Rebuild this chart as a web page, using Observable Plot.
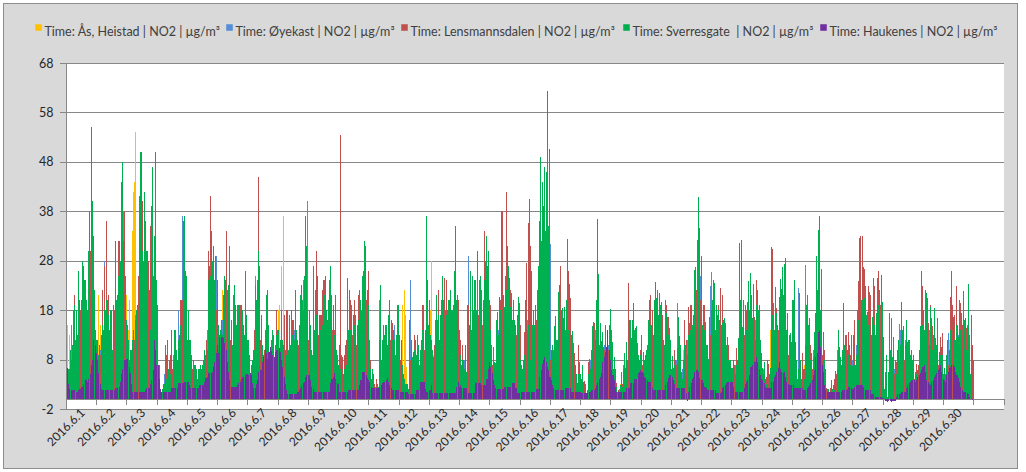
<!DOCTYPE html>
<html>
<head>
<meta charset="utf-8">
<script src="https://cdn.jsdelivr.net/npm/d3@7"></script>
<script src="https://cdn.jsdelivr.net/npm/@observablehq/plot@0.6"></script>
<style>
html, body { margin: 0; padding: 0; background: #ffffff; }
#wrap { position: relative; width: 1026px; height: 472px; overflow: hidden; }
#bg { position: absolute; left: 3px; top: 3px; width: 1015px; height: 466px; box-sizing: border-box; border: 1px solid #8c8c8c; background: #d9d9d9; }
#chart { position: absolute; left: 0; top: 0; }
#chart svg text { white-space: pre; }
#msg { position: absolute; left: 10px; top: 440px; color: red; font: 12px sans-serif; }
</style>
</head>
<body>
<div id="wrap"><div id="bg"></div><div id="chart"></div><div id="msg"></div></div>
<script>
// ---------- tick labels & series ----------
const dayLabels = ["2016.6.1","2016.6.2","2016.6.3","2016.6.4","2016.6.5","2016.6.6","2016.6.7","2016.6.8","2016.6.9","2016.6.10",
  "2016.6.11","2016.6.12","2016.6.13","2016.6.14","2016.6.15","2016.6.16","2016.6.17","2016.6.18","2016.6.19","2016.6.20",
  "2016.6.21","2016.6.22","2016.6.23","2016.6.24","2016.6.25","2016.6.26","2016.6.27","2016.6.28","2016.6.29","2016.6.30"];
const yTicks = [-2, 8, 18, 28, 38, 48, 58, 68];
const seriesNames = [
  "Time: Ås, Heistad | NO2 | µg/m³",
  "Time: Øyekast | NO2 | µg/m³",
  "Time: Lensmannsdalen | NO2 | µg/m³",
  "Time: Sverresgate  | NO2 | µg/m³",
  "Time: Haukenes | NO2 | µg/m³"
];
const seriesColors = ["#FFC000", "#558ED5", "#C0504D", "#00B050", "#7030A0"];

// ---------- hourly values, one row of 24 per day (June 1 .. June 30) ----------
const heistad = [
[18,15,13,8,6,5,7,6,5,8,7,9,10,9,8,10,9,12,14,18,16,14,10,6],
[6,21,7,15,8,7,9,10,9,8,8,9,6,8,12,9,10,12,14,16,18,15,14,17],
[21,14,20,8,34,42,44,54,10,12,14,13,12,11,10,9,9,10,8,11,13,12,11,9],
[5,3,1,1,1,2,4,3,5,4,4,6,5,7,8,6,7,8,9,10,11,12,9,8],
[8,6,5,4,4,3,3,3,3,3,4,4,5,5,6,7,10,11,12,13,12,11,10,9],
[10,9,10,12,22,14,13,15,14,13,10,7,11,12,11,11,10,10,11,10,9,8,10,7],
[6,5,4,4,5,7,12,13,16,12,9,6,5,7,10,11,8,4,6,8,7,6,9,12],
[18,19,8,27,37,7,6,7,6,7,8,9,8,12,9,8,9,12,13,12,14,16,15,12],
[9,8,5,5,10,11,12,13,9,9,9,11,12,13,10,11,13,14,11,10,8,9,5,4],
[4,3,3,3,3,3,4,8,9,8,8,10,9,7,9,10,13,12,14,15,17,16,13,12],
[6,4,3,2,1.5,1.5,2,1.5,9,14,7,9,8,9,7,11,12,10,10,9,8,8,12,12],
[7,6,4,19,22,17,6.5,2.5,8,7,5,5,6,6,6,6,6,7,10,10,8,12,11,9],
[10,18,28,9,8,10,8,10,9,10,11,10,12,12,9,10,11,9,9,12,14,10,10,9],
[5,4,5,4,6,3,9,10,12,8,11,11,12,10,13,12,12,11,10,15,13,14,15,10],
[9,6,5,4,4,8,9,11,10,15,15,10,13,16,15,12,11,10,10,9,8,9,11,10],
[5,4,4,6,8,10,12,14,11,10,9,8,10,12,14,18,22,20,20,21,22,25,18,20],
[6,7,6,9,8,7,12,13,12,11,10,11,12,14,12,11,10,8,6,5,3,2,4,4],
[2,4,2,2,0.8,1,4,5,6,9,10,9,12,18,14,9,7,8,7,9,4,5,9,11],
[8,7,5,3,2,1,1,1.5,3,2,6,4,8,5,12,10,8,11,12,9,10,7,5,6],
[7,6,5,5,6,9,10,11,10,10,12,14,12,13,13,12,12,10,7,12,12,10,9,7],
[5,4,6,5,6,10,8,7,3,5,10,7,8,11,9,12,12,11,15,16,18,20,18,16],
[9,11,11,9,6,5,10,12,13,14,14,11,10,11,9,12,12,10,9,9,7,6,5,4],
[4,5,4,6,5,8,13,12,9,13,12,11,13,15,16,14,10,15,10,14,14,11,11,6],
[4,5,2,3,5,5,4,14,15,11,13,12,10,13,16,14,17,18,17,9,11,8,9,7],
[13,15,7,5,4,13,5,3,5,4,7,12,13,10,7,6,5,9,11,17,20,22,11,12],
[8,6,3,1,1,0.8,1,1.5,1,1.5,2,4,9,7,5,6,7,7,7,7,7,7,6,6],
[7,7,6,10,13,15,15,16,13,14,12,10,12,11,11,11,12,12,11,15,14,12,15,12],
[8,1,4,0.2,3,9,8,5,8,5,5,6,8,7,12,9,9,7,10,7,8,8,6,5],
[5,3,4,3,6,9,13,12,11,12,12,12,9,12,10,9,11,8,7,10,6,7,7,8],
[4,3,6,8,7,12,14,11,10,8,13,9,12,11,10,13,10,9,8,14,8,3,9,6]
];
const oyekast = [
[3,4,5,9,15,10,9,8,7,10,9,11,12,10,10,12,11,14,20,30,48,25,15,9],
[7,8,9,10,12,11,28,14,13,12,12,11,7,12,16,13,14,18,20,25,28,38,20,11],
[10,9,8,7,8,9,11,17,15,20,22,24,20,19,17,15,14,12,10,16,20,18,22,14],
[8,4,1,1,1,2,5,4,6,5,5,7,5,9,9,7,8,18,12,12,37,14,12,11],
[10,8,7,6,5,4,4,4,4,4,5,5,6,7,7,8,14,15,17,18,19,16,15,29],
[9,8,9,10,16,15,13,14,13,12,9,7,10,12,10,11,10,10,12,9,8,7,11,6],
[7,6,4,5,6,9,25,14,18,14,10,7,6,9,13,14,10,5,8,9,8,7,10,9],
[8,7,9,8,7,9,10,10,6,9,10,10,9,14,10,8,10,14,15,14,24,25,22,40],
[11,9,6,6,12,13,14,15,11,10,10,13,14,15,11,12,14,16,13,12,9,10,6,5],
[5,4,3,3,4,3,5,10,11,10,10,12,11,9,11,12,15,14,16,17,19,18,15,14],
[7,5,4,3,2,2,3,2,20,15,8,10,9,10,7,12,13,11,11,9,15,9,13,13],
[8,7,5,3,3,2,2,1,12,24,6,7,8,8,8,8,7,8,11,11,9,14,12,10],
[11,9,7,6,10,13,11,12,11,12,14,12,14,13,11,12,13,11,11,15,18,12,12,11],
[7,5,6,5,8,4,10,29,14,9,13,12,13,11,15,13,14,12,11,17,15,16,18,12],
[11,7,6,5,5,10,12,14,13,18,18,12,15,19,17,14,13,12,12,10,9,11,13,12],
[7,5,5,8,11,14,16,18,13,12,11,10,12,14,16,20,25,24,26,27,28,32,22,26],
[31.4,8,7,11,10,9,15,16,14,13,12,13,14,17,13,13,12,9,7,6,3,2,5,4],
[3,5,2,2,1,1,5,6,8,11,12,11,14,20,16,11,8,10,8,11,5,6,11,13],
[9,8,6,4,2,1,1,2,3.5,2,7,4,9,6,14,12,9,12,13,10,12,8,6,7],
[8,7,6,6,7,10,12,12,11,11,13,15,13,14,14,13,13,11,8,13,13,11,10,8],
[6,5,7,6,8,19.4,9,8,4,6,11,8,9,12,10,13,13,12,16,17,20,22,20,25],
[10,12,12,10,7,6,11,22.8,25.8,15,15,12,11,12,10,13,13,11,10,10,8,7,5,4],
[5,6,5,7,6,10,15,14,10,14,13,12,14,17,18,16,11,17,11,16,15,12,12,7],
[4,6,3,3,6,6,5,16,16,12,14,13,11,14,17,15,18,19,19,10,12,9,9,8],
[14,17,8,6,4,22.4,6,3,6,4,27.2,14,14,11,8,7,6,10,12,18,22,24,12,13],
[9,7,3,1.5,1.2,1,1.2,2,1.5,2,3,4,10,8,6,7,8,8,8,8,8,8,7,7],
[8,8,7,11,14,16,16,17,14,15,13,11,13,12,12,12,13,13,12,16,15,13,16,13],
[9,1.2,5,0.3,4,11,10,6,9,6,6,7,9,15.2,14,10,10,8,12,8,9,9,7,6],
[6,4,5,4,7,10,14,13,12,13,14,14,10,14,11,10,12,9,8,11,7,8,8,9],
[5,4,7,9,13.4,13,16,12,11,9,14,10,13,12,11,14,11,10,9,15,9,3.5,10,7]
];
const lensmannsdalen = [
[4,4,5,6,8,12,21,12,10,15,13,18,23,22,17,24,15,20,25,30,28,26,18,14],
[12,7,8,9,22,11,27,36,15,21,14,14,8,12,18,14,16,32,32,44,30,22,38,12],
[10,9,8,7,9,10,12,14,12,25,30,34,40,28,36,22,30,28,35,39,28,25,30,19],
[19,5,1.5,1,2,3,11,9,12,8,9,14,6,9,10,7,8,10,20,19,20,22,16,15],
[12,9,8,6,6,5,5,4,4,5,5,6,6,7,7,12,30,27,41,34,22,23,29,18],
[11,10,11,16,17,19,24,34,18,31,12,8,21,18,19,14,15,16,19,13,11,10,26,9],
[8,7,5,6,8,14,23,24,45,27,12,8,7,10,15,16,11,5,12,10,9,8,18,10],
[10,9,18,11,10,17,18,18,7,17,18,16,16,15,10,9,11,15,17,19,18,22,20,14],
[12,10,7,7,27,22,30,18,13,17,12,22,24,19,13,16,18,20,21,14,14,21,8,9],
[11,53.5,9,8.5,9,11,12,24.5,22,20,19,13,20,17,11,21,16,15,18,19,22,21,20,26],
[8,8,4,5,3,2.5,4,2,8,15,8,10,9,11,8,12,20,12,15.5,10,9,9,14,13],
[9,8,5,4,3,3,2,2,11,8,6,7,13,12,13,8,7,12,19,19,10,18,15,11],
[20,10,8,6,11,14,12,22,12,14,17,15,24.5,24,13,14,16,13,12,19,28,15,21,20],
[12,7,11,8,9,4,19,19,18,10,17,18,24,13,20,17,18,16,15,34,21,22,27,15],
[19,11,7,5,7.4,11,17.6,14,20,38,38,13,25,42,31,24.5,22,21.4,14,12,11,13,15,14],
[15,7,8,13.6,20,27.6,35.7,40.5,31,26,13,11,14,16,19,25,30,32,39,33,34,36,24.5,30],
[8,8,10,10,16.8,9,20.2,13,27,14,12,13,14,32.4,26,23.3,20.4,10,11.3,9.3,4,2.5,10.9,7.6],
[3,4,2.5,3.7,1,1.8,7.6,8.2,7,10,11,15.3,14,22,17,11,11.8,10,8,10,6,8.3,10,12],
[10,8,6,4,3.2,1,1.8,2,5.5,3,6,5,8,6,23.4,11,12.3,11,19.4,10,11,11.3,6,10],
[13,7,6,6,7,11,20,21,11,18,14,22.8,15,22,15,14,14,17,8,20,19.1,16.7,10,9],
[6,5,10,8,7,11,9,8,5.5,7.9,16,10.9,12,18.7,15.3,19,19,12,18,26.8,22,25,23,20],
[10,13,19,15.7,8,6,16.7,13,15,17,22.4,14,12,19,12,22.4,21,16,12,15.3,9,10.9,6,5],
[6,5,7,10.3,6,9,31.6,32.2,10,14,13,18,14,17,18,15,12,16,16.7,24.1,16,13,19,9.3],
[5,5,3,4.5,7.9,7.2,5,30.7,30.4,19.4,22.6,18.4,11,14,17,16,19,21,28.5,10,12,9,10,8],
[14,16,8,6,4,14,6,3,9.3,6,8,13,21,11,10.9,7,6,9,17.4,19,22,24,12,26.3],
[9,10,4,2.2,1.5,1.5,2.2,3.9,2.8,4,5.7,5,11.4,8,6,7,19.4,8,13,13,13.5,8,9,13],
[13,16,7,18,23.8,32.6,33,32.9,26.8,26.4,22.8,17.7,22.8,21.6,21.1,15,24.5,22.9,13,18,25.9,22,19,14],
[12.6,1.5,5.5,0.3,4,17.4,16.4,6,8,5,7.6,7,8,8,13,10,14.7,8,11,11.5,8,12,10,6],
[8.9,4,7.1,4,7,10,26,22.8,18,22,15,20.4,15.5,19,16.5,14.7,13,9,8,12,7,12.5,8,13.3],
[5,4,6,8,7,20.6,26,19,17,9,22.8,14.9,20,19.4,17.4,15,11,16.5,14.3,14.6,9,4,17,11]
];
const sverresgate = [
[6,6,6,10,11,18,19,18,13,26,20,20,28,27,24,20,18,30,38,55,40,33,22,12],
[8,9,11,13,15,14,18,20,20,17,18,18,10,19,32,20,21,25,28,33,48,32,25,16],
[15,12,10,10,12,14,16,18,19,41,50,50,30,42,28,30,24,22,14,30,47,33,50,24],
[14,7,2,1.5,2,3,5,4,6,6,5,8,8,14,14,10,12,13,15,20,36,37,26,25],
[18,12,12,9,8,7,7,6,6,6,7,7,8,10,9,10,24,24,25,28,31,24,22,24],
[15,13,14,13,21,25,20,22,23,22,16,11,17,23,15,19,19,19,19,18,15,13,17,12],
[12,9,7,8,10,10,20,21,30,22,17,11,9,14,21,22,15,7,9,14,13,11,13,14],
[14,12,11,12,11,10,9,10,10,11,12,13,12,22,14,12,15,21,23,20,25,37,31,18],
[18,15,10,9,14,19,17,25,17,14,17,15,21,25,18,20,24,27,16,19,13,12,10,7],
[8,6,5,5,6,5,7,14,15,14,13,17,15,12,15,16,22,20,25,26,32,31,22,19],
[12,6,6,3,2,2,3,2.5,12,23,12,15,13,15,11,17,14,16,12,14,12,13,19,19],
[13,12,7,5,4,3,3,2,16,12,8.5,9.5,10,9,10,11,10,9,14,15,14,37,24,15],
[13,12,10,8.5,16,21,16,17,17,20,25,20,18,17,18,20,22,18,18,26,35,20,16,14],
[9,5,8,6,11,5.5,4,15,26,14,25,24,18,18,30,24,25,22,20,24,28,33,30,20],
[14,8,10.6,7.6,6,16,13,20.7,18,20,21,18.7,19,22,27,20,18.7,16,20,16,15,17,20.7,19.4],
[8,6,6,9,10,14,15,16,8,15,18,15,19,22,27,36,49,44,36,47,46,62.4,35,50.6],
[10,11,9.3,14.7,12,12,21.6,23,18,18.4,16.5,18.7,20,22,14,15,13,13.7,8,7,5,3.2,5,5],
[4,6.9,3.5,3,1.2,1.5,5,6,10,14.7,15.7,12,20,36.4,25.3,15.3,10,13.6,10.6,15,7,6,15,18.3],
[14,11.5,8.6,6,2.5,1.5,1.2,2.8,4,2.5,9.3,6.2,11.6,8,16,16,10,16.1,14,14.3,14.7,9,8,9],
[12,9.5,8,9,10,16,14,15,15,13,20,23.6,20.4,17,21.4,19,19.7,12,11,14,17.5,13,14.3,12],
[8.7,6.2,7,6,10.3,16.7,12.8,10.9,4,6,11,8,9,13,11,14,15,17,26.1,20,32.2,40.8,34.6,28.9],
[15,19,14,11,10.9,8.2,12,18,20,24.1,23.4,19,17,18,16,15,15.3,12,16.4,11,12.6,8,8,6.2],
[6.2,7.9,5,7,8,12.3,20,18,14.5,20,19,14,19.7,23.8,25.5,21,16.4,23.3,12,19,22,18,12,8],
[6.2,7.5,4,3,5,5,6.2,15,17,14,16,17.4,15,20.7,24.3,22.2,26.8,27.4,20,14,17.4,13,13.3,11.5],
[20,24.1,11.6,8,6,21.4,8,4,6,4,10.9,19,15,16.4,8,9.3,8.6,13.6,17.2,28.9,34.3,37,18,13.6],
[13.6,8,6,2,2,1.2,1.5,2,1.8,1.8,3,6,14,10.6,8.5,10,9,11,9,10,9,11,7,6.8],
[9,7,9,12,16,18,20,20,15,20.4,17,12,15,14,13,16.7,17,15,17.4,24.5,19,15,25.1,19.7],
[12,2,8.9,0.5,5.5,10,9,8.6,12.5,7.9,5,10,12,11,19.6,14,10,11,16,8,12,9,7,8],
[6,5.5,5,5.9,10,14.7,16,15,14,15,21.4,15.7,11,18.7,12,10,18.4,12.3,10.9,16.5,9.6,9,10.6,9],
[6.2,5,9,12,10,14,17,16.7,12,12,15,12.6,13,14,13,21.8,16,12,10,23.3,13,5,10,7.9]
];
const haukenes = [
[6.2,3,2,1.8,1.8,1.8,1.8,1.5,1.5,1.8,2,2.5,2.5,3,3.9,3.9,3.5,4,5,7,8,12,11,9.3],
[8,5.2,3,2,1.8,1.8,1.8,1.8,1.8,1.8,1.8,1.8,1.8,1.8,2.2,2.2,2.2,2.5,3.5,5,6,7.9,8,8.2],
[8.2,6.5,5.2,3,1.5,1.5,1.5,1.5,1.5,1.5,1.5,1.5,1.5,1.5,1.8,2.2,2.2,2.2,3,3.8,5.9,12,10,6.9],
[6.9,4,2,1.5,1.5,1.5,1.5,1.5,1.5,1.5,1.5,2.2,2.2,2.2,2.2,2.2,3.2,3.2,3.2,3.2,3.2,3.5,3.5,3.5],
[3.5,2.8,2.2,2.2,2.2,2.2,2.2,2.2,2.2,2.8,2.8,2.8,2.8,3.5,4.2,4.5,5.2,5.2,5.2,5.5,6.5,7.6,9.3,11],
[9.3,12.6,12.6,12.6,12.3,11.3,10,7.6,5.5,3.9,2.5,2.5,2.5,2.5,2.5,2.8,3.2,3.5,4,4.5,4.5,4.9,5,5],
[4.9,5.2,4.9,3.2,2.2,2.2,3,3.9,5.5,5.9,5.9,7.6,8.5,9.9,9.3,8.2,9.6,10.5,9.8,9,8.5,9.5,10,9.9],
[10.3,9.5,8,6.5,4.5,3,1.8,1.1,1,1,1,1,1,1,1,1.5,1.8,2.2,2.8,3.2,3.5,4.5,4.9,4.9],
[4.9,3.9,2.5,2,1.5,1.5,1.5,1.5,1.5,1.5,1.5,1.5,1.5,1.5,1.5,1.5,1.5,3.2,4,4.5,5.2,4,3.2,3],
[1.5,1.5,1.5,1.5,1.5,1.5,1.5,1.8,1.8,1.8,1.8,1.8,1.8,1.8,1.8,1.8,2.8,3.9,5.5,5.5,5.5,4.9,4.2,3.9],
[3.5,2.5,2.2,2.2,2.2,2.2,2.2,2.2,2.5,2.8,3.2,3.5,3.5,3.9,4.2,3.5,2.8,2.2,1.8,1.8,1.8,1.8,1.8,1.8],
[1.5,1.5,1.5,1.5,1.5,1.5,1.5,1,1,1,1,1,1,1.8,1.8,1.8,3.5,3.5,3.5,3.5,2,1.5,1.5,1.8],
[1.8,2.8,1.2,1.2,1.2,1.2,1.2,1.2,1.2,1.2,1.2,1.2,1.2,1.2,1.2,1.2,1.2,1.2,1.2,1.2,1.2,2.5,3.5,2.5],
[2.8,2.2,2.2,2.2,2.2,2.2,1.2,1.2,1.2,1.2,1.2,1.2,3.2,3.2,3.2,3.2,3.2,2.8,2.8,2.8,2.8,4,6,7.6],
[6.5,5.2,3.9,2.8,2.2,2,2,2,2,2,2,2.5,2.5,2.5,2.5,2.5,2.5,3.2,3.2,3.2,2.2,1.2,1.2,1.2],
[1.5,1.5,1.5,1.5,1.5,1.5,1.5,1.5,1.5,1.5,1.5,1.5,2,2,2,4.5,5.9,7.2,8,8.6,7.6,6.4,5.9,4.5],
[3.9,2.8,2.2,1.8,1.8,1.8,1.8,1.8,1.8,1.8,1.8,2.2,2.2,2.2,2.2,2.2,1.5,1.5,1.5,1.5,1.5,1.5,1.5,1.5],
[1.2,1.2,1.2,1.2,1.2,1.2,1.5,1.5,1.8,1.8,1.8,2.2,2.8,3.5,4,4.5,5.2,7.6,8.5,9.5,10.6,14,9.9,7.9],
[5.9,4.9,3.9,2.5,1.5,1.5,1.5,1.5,1.5,1.5,1.5,1.5,2.2,2.2,2.2,3.2,3.2,3.2,4,4,4,5.2,5.5,5.9],
[5.5,5.2,4.5,4.2,3.9,3.5,3.5,3.5,2.2,1.8,1.8,1.8,1.8,1.8,1.8,1.8,1.8,1.8,1.8,2.8,3.5,4.2,4.9,4.9],
[4.5,3.9,3,2.2,2.2,2.2,2.2,2.2,2.2,2.2,2.2,1.2,-0.3,1.5,2.5,3.2,4,4.5,5.5,5.9,5.9,5.5,4.2,3.9],
[3.9,3.2,2.5,2.2,1.8,1.8,1.8,1.8,1.8,1.8,1.8,1.2,1.2,1.2,1.2,1.5,2.2,2.5,2.8,3.2,3.5,3.5,3.5,3.5],
[3.5,2.5,1.5,1.5,1.5,1.5,1.5,1.5,1.5,2.2,3,3.5,4,4.9,6.5,6.5,7,7.6,7.6,8.5,7.5,6,4.9,4],
[3.9,3.2,2.5,2.2,2.2,2.2,2.2,3.5,3.5,4.5,4.9,5.5,6.2,7.6,6,5.5,5.2,5.5,4.5,3.5,3,2.8,2.8,2.8],
[2.8,2.2,2.2,2.2,2.2,2.2,2.2,2.2,1.8,1.8,1.8,2.2,2.5,2.8,3.2,3.9,4.9,5.9,8.6,9.3,13.6,14,10.6,7],
[5.5,2.8,1.8,1.5,1.5,1.5,1.5,1.5,1.5,1.5,1.5,1.5,1.5,1.5,1.5,1.8,1.8,1.8,1.8,2,2.5,2.5,2.2,2],
[2,2.5,2.8,2.8,2.8,2.8,2.8,2.8,2.5,1.8,1.8,1.8,1.8,1.8,1,1,1,0.5,0.5,0.5,0.5,0.5,0.5,0.3],
[0.2,-0.4,-0.4,-0.5,-0.4,-0.4,-0.5,-0.4,-0.4,-0.4,0.5,1,1,1,1.5,1.5,1.5,1.5,2.2,2.8,3.2,3.5,3.9,3.9],
[3.9,3.5,3.9,4.5,4.9,5.2,5.9,6.5,6.9,5.5,3.9,3.5,3,2.8,3.5,3.9,4.5,4.9,5.2,5.9,6.2,6.9,5.5,4],
[3.9,3.5,4.9,5.5,6.2,6.5,6.9,6.9,6.5,5.5,4.9,4.2,3.5,2.5,1.8,1.5,1.5,1.5,1.2,1,0.5,0,-0.2,-0.2]
];

// ---------- assemble ----------
const allSeries = [heistad, oyekast, lensmannsdalen, sverresgate, haukenes];
const HOURS_PER_DAY = 24;
const SLOTS = 31 * HOURS_PER_DAY;           // category axis holds one empty extra day
const problems = [];
allSeries.forEach((s, k) => s.forEach((day, d) => { if (day.length !== 24) problems.push(`s${k} d${d + 1}: ${day.length}`); }));
if (problems.length) document.getElementById("msg").textContent = "BAD: " + problems.join("; ");

// bar placement inside each hourly category (Excel clustered columns, ~1px each)
const barOffset = [0, 0.15, 0.35, 0.55, 0.7];
const barWidth  = [0.8, 0.8, 0.8, 0.8, 0.82];

const gridColor = "#878787";
const textColor = "#262626";
const fontFamily = "Lato, 'Open Sans', 'DejaVu Sans', sans-serif";

// legend layout (pixels within the picture)
const frameLeft = 66, frameTop = 63;
const legendSquareX = [38, 229, 404, 626, 823];
const legendY = 27;

const barMarks = allSeries.map((s, k) => {
  const rows = s.flat().map((v, i) => ({i, v}));
  return Plot.rect(rows, {
    x1: d => d.i + barOffset[k],
    x2: d => d.i + barOffset[k] + barWidth[k],
    y1: 0, y2: "v",
    fill: seriesColors[k],
    shapeRendering: "crispEdges"
  });
});

const legendMarks = seriesNames.flatMap((name, k) => [
  Plot.dot([name], {frameAnchor: "top-left", dx: legendSquareX[k] - frameLeft, dy: legendY - frameTop,
    symbol: "square", r: 3.7, fill: seriesColors[k], stroke: null}),
  Plot.text([name], {frameAnchor: "top-left", dx: legendSquareX[k] + 6 - frameLeft, dy: legendY - frameTop,
    text: d => d, textAnchor: "start", fill: "#404040", fontSize: 12.5})
]);

const chart = Plot.plot({
  width: 1026,
  height: 472,
  marginLeft: 66,
  marginRight: 22.5,
  marginTop: 63,
  marginBottom: 63,
  style: {background: "transparent", fontFamily, fontSize: "12px", color: textColor, overflow: "visible"},
  x: {type: "linear", domain: [0, SLOTS], axis: null},
  y: {type: "linear", domain: [-2, 68], axis: null},
  marks: [
    Plot.frame({fill: "white", stroke: null}),
    Plot.ruleY(yTicks, {x1: -4.8, x2: SLOTS, stroke: gridColor, strokeWidth: 1, shapeRendering: "crispEdges"}),
    Plot.ruleY([0], {x1: 0, x2: SLOTS, stroke: gridColor, strokeWidth: 1, shapeRendering: "crispEdges"}),
    ...barMarks,
    Plot.ruleX([0], {y1: -2, y2: 68, stroke: gridColor, strokeWidth: 1, shapeRendering: "crispEdges"}),
    Plot.ruleX(d3.range(0, SLOTS + 1, HOURS_PER_DAY), {y1: 0, y2: -1.15, stroke: gridColor, strokeWidth: 1, shapeRendering: "crispEdges"}),
    Plot.text(yTicks, {y: d => d, frameAnchor: "left", dx: -13, textAnchor: "end", text: d => String(d), fontSize: 12.5, fill: textColor}),
    Plot.text(dayLabels, {x: (d, i) => i * HOURS_PER_DAY + 12, frameAnchor: "bottom", rotate: -45, textAnchor: "end",
      dx: 4, dy: 4, text: d => d, fontSize: 12, fill: textColor}),
    ...legendMarks
  ]
});
document.getElementById("chart").appendChild(chart);
</script>
</body>
</html>
